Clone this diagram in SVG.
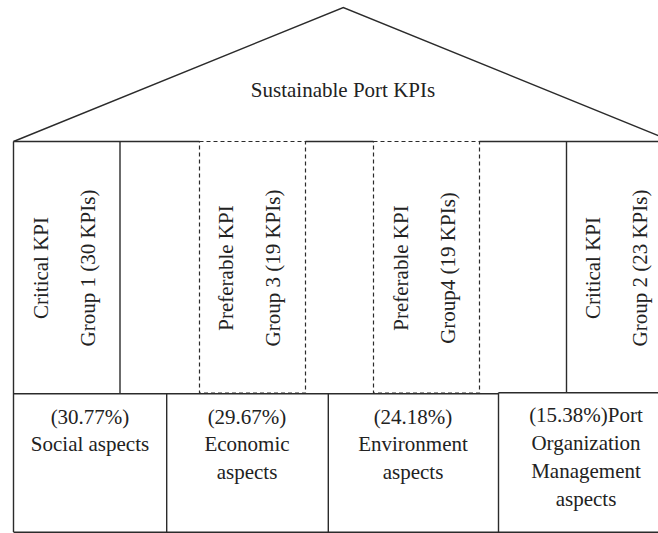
<svg xmlns="http://www.w3.org/2000/svg" width="658" height="533" viewBox="0 0 658 533">
<style>
  .ln{stroke:#2b2b2b;stroke-width:1.4;fill:none}
  .dash{stroke:#2b2b2b;stroke-width:1.2;fill:none;stroke-dasharray:4,3}
  text{font-family:"Liberation Serif","Times New Roman",serif;font-size:21px;fill:#222;text-anchor:middle}
</style>
<rect width="658" height="533" fill="#fff"/>
<g id="roof">
  <polyline class="ln" points="13.5,141.5 343.3,7.5 673,141.5"/>
  <text x="343" y="97">Sustainable Port KPIs</text>
</g>
<g id="frame">
  <line class="ln" x1="13.5" y1="141.5" x2="199.5" y2="141.5"/>
  <line class="ln" x1="305.5" y1="141.5" x2="373.5" y2="141.5"/>
  <line class="ln" x1="479.5" y1="141.5" x2="660" y2="141.5"/>
  <line class="ln" x1="13.5" y1="141.5" x2="13.5" y2="532"/>
  <line class="ln" x1="120" y1="141.5" x2="120" y2="393.5"/>
  <line class="ln" x1="566.5" y1="141.5" x2="566.5" y2="392.5"/>
</g>
<g id="col1">
  <text transform="translate(48,268) rotate(-90)">Critical KPI</text>
  <text transform="translate(95,268) rotate(-90)">Group 1 (30 KPIs)</text>
</g>
<g id="col3">
  <rect class="dash" x="199.5" y="141.5" width="106" height="251.5"/>
  <text transform="translate(233,268) rotate(-90)">Preferable KPI</text>
  <text transform="translate(280,268) rotate(-90)">Group 3 (19 KPIs)</text>
</g>
<g id="col4">
  <rect class="dash" x="373.5" y="141.5" width="106" height="251.5"/>
  <text transform="translate(408,268) rotate(-90)">Preferable KPI</text>
  <text transform="translate(455,268) rotate(-90)">Group4 (19 KPIs)</text>
</g>
<g id="col2">
  <text transform="translate(600,268) rotate(-90)">Critical KPI</text>
  <text transform="translate(647,268) rotate(-90)">Group 2 (23 KPIs)</text>
</g>
<g id="base">
  <line class="ln" x1="13.5" y1="393.8" x2="498.5" y2="393.8"/>
  <line class="ln" x1="498.5" y1="392.7" x2="660" y2="392.7"/>
  <line class="ln" x1="13.5" y1="532.2" x2="660" y2="532.2"/>
  <line class="ln" x1="166.7" y1="393.8" x2="166.7" y2="532.2"/>
  <line class="ln" x1="328.3" y1="393.8" x2="328.3" y2="532.2"/>
  <line class="ln" x1="498.5" y1="392.7" x2="498.5" y2="532.2"/>
</g>
<g id="social">
  <text x="90" y="424">(30.77%)</text>
  <text x="90" y="451">Social aspects</text>
</g>
<g id="economic">
  <text x="247" y="424">(29.67%)</text>
  <text x="247" y="451">Economic</text>
  <text x="247" y="479">aspects</text>
</g>
<g id="environment">
  <text x="413" y="424">(24.18%)</text>
  <text x="413" y="451">Environment</text>
  <text x="413" y="479">aspects</text>
</g>
<g id="organization">
  <text x="586" y="422">(15.38%)Port</text>
  <text x="586" y="450">Organization</text>
  <text x="586" y="478">Management</text>
  <text x="586" y="506">aspects</text>
</g>
</svg>
